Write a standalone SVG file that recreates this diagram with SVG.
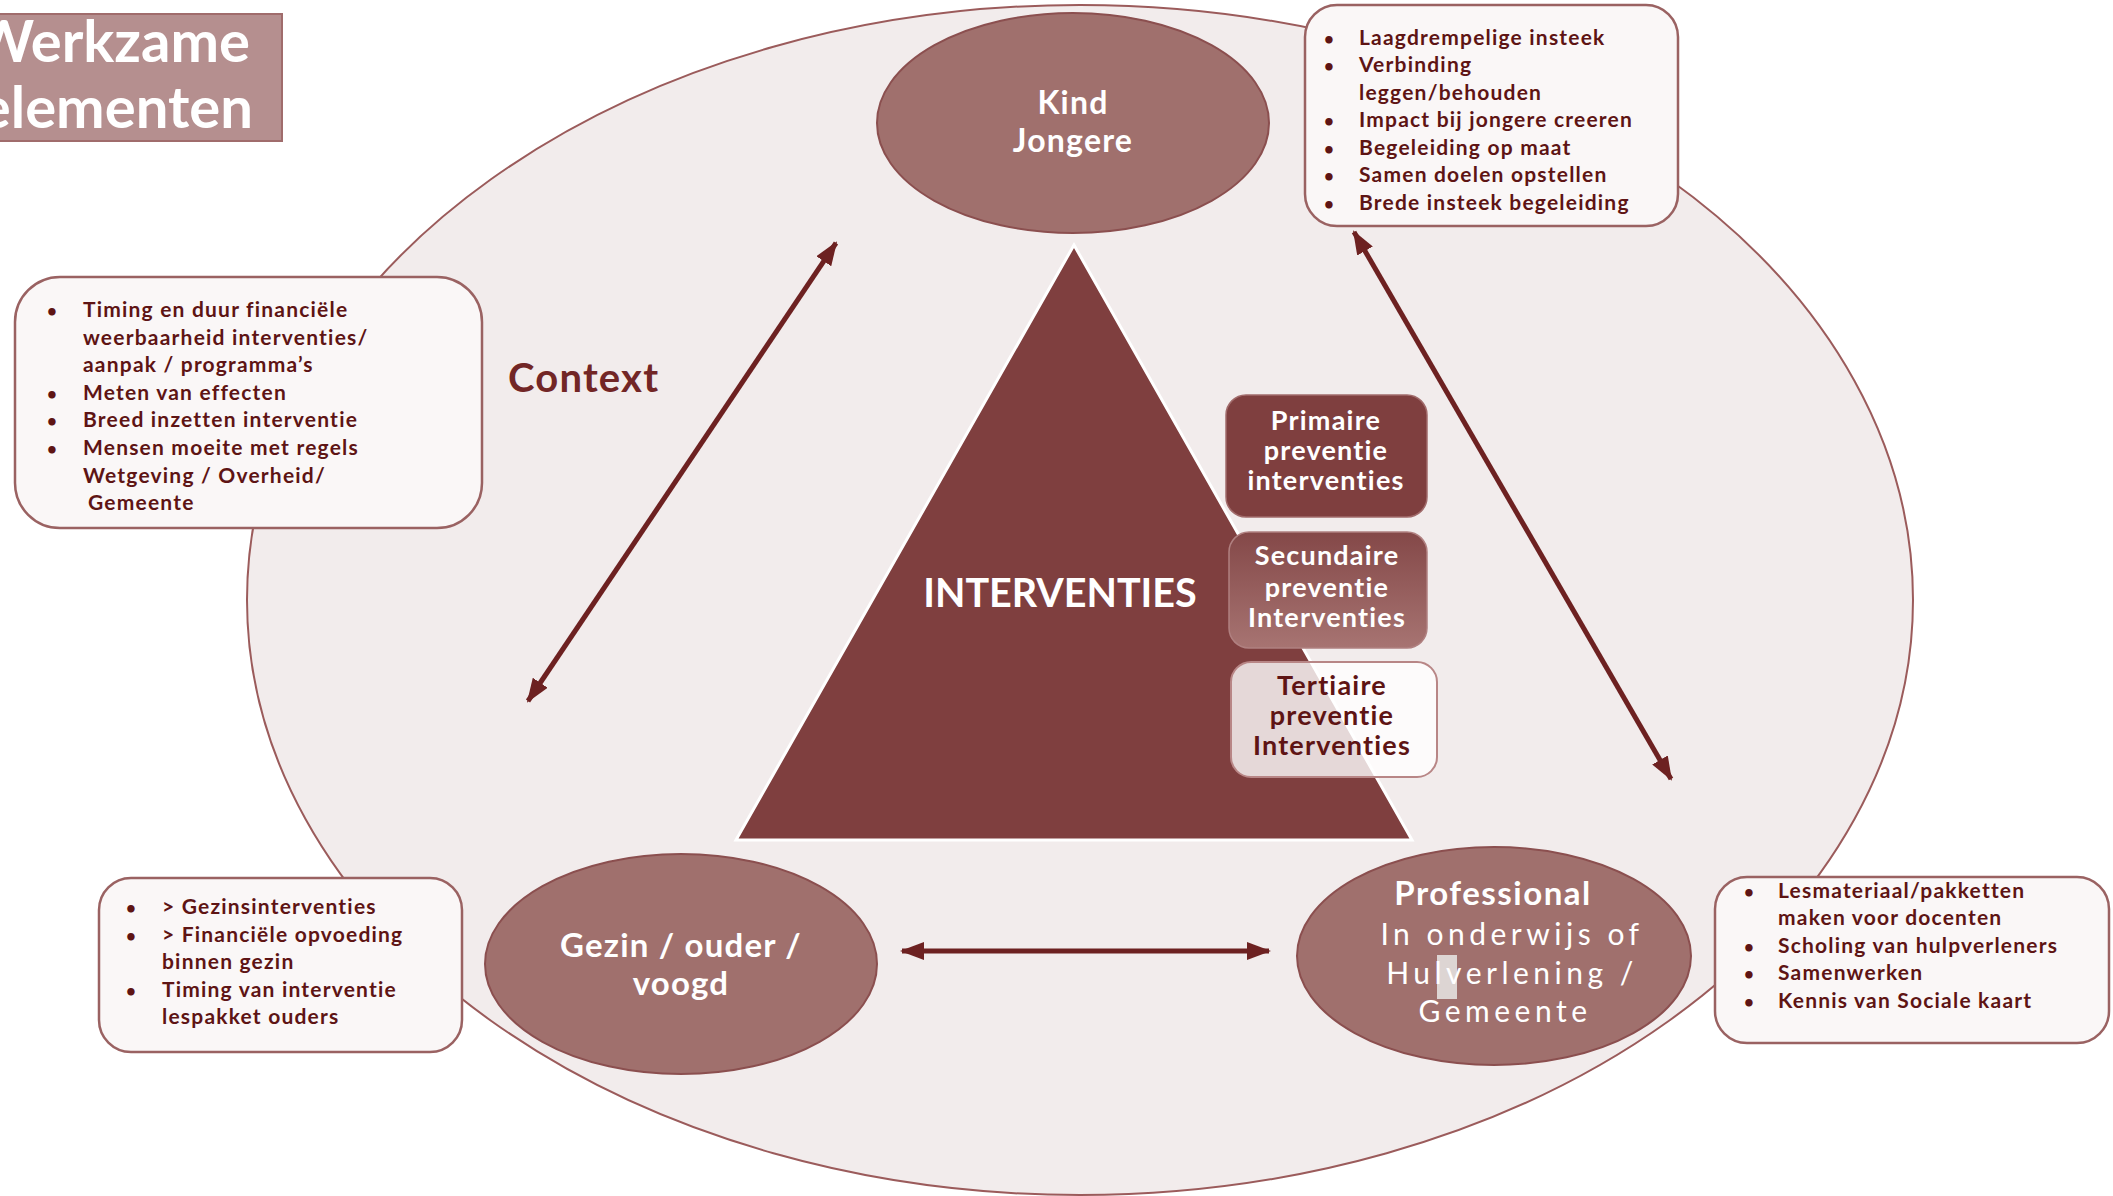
<svg xmlns="http://www.w3.org/2000/svg" width="2113" height="1196" viewBox="0 0 2113 1196">
<defs>
<style>
.bg{fill:#f2ecec;stroke:#9b5b5b;stroke-width:2}
.node{fill:#a0706d;stroke:#8b4f4f;stroke-width:2}
.call{fill:#faf7f7;stroke:#9a6262;stroke-width:2.5}
.ct{font-family:Lato,"Liberation Sans",sans-serif;font-weight:bold;font-size:21px;letter-spacing:1.2px;fill:#5e1414}
.bu{font-family:Lato,"Liberation Sans",sans-serif;font-weight:bold;font-size:17px;fill:#5e1414}
.wt{font-family:Lato,"Liberation Sans",sans-serif;font-weight:bold;fill:#ffffff;text-anchor:middle}
.pt{font-family:Lato,"Liberation Sans",sans-serif;font-weight:bold;font-size:27px;letter-spacing:1.2px;text-anchor:middle}
.conn{stroke:#6d2121;stroke-width:5;fill:none;marker-start:url(#ah);marker-end:url(#ah)}
</style>
<marker id="ah" markerUnits="userSpaceOnUse" markerWidth="24" markerHeight="18" refX="22" refY="9" orient="auto-start-reverse">
<path d="M0,0 L24,9 L0,18 Z" fill="#6d2121"/>
</marker>
<linearGradient id="secg" x1="0" y1="0" x2="0" y2="1">
<stop offset="0" stop-color="#844848"/>
<stop offset="1" stop-color="#a77472"/>
</linearGradient>
</defs>
<rect x="0" y="0" width="2113" height="1196" fill="#ffffff"/>

<g id="context-ellipse">
<ellipse class="bg" cx="1080" cy="600" rx="833" ry="595"/>
</g>

<g id="title">
<rect x="-2" y="14" width="284" height="127" fill="#b58f8f" stroke="#a06c6c" stroke-width="2"/>
<text x="250" y="62" class="wt" style="text-anchor:end;font-size:58px">Werkzame</text>
<text x="253" y="128" class="wt" style="text-anchor:end;font-size:58px">elementen</text>
</g>

<g id="context-label">
<text x="508" y="392" font-family="Lato, 'Liberation Sans', sans-serif" font-weight="bold" font-size="40" letter-spacing="1.2" fill="#722626">Context</text>
</g>

<g id="interventies">
<polygon points="1074,245 736,840 1412,840" fill="#7f3f3f" stroke="#ffffff" stroke-width="3"/>
<text x="1060" y="607" class="wt" style="font-size:39.5px">INTERVENTIES</text>
</g>

<g id="primaire">
<rect x="1226" y="395" width="201" height="122" rx="20" fill="#7f3f3f" stroke="#a16b6b" stroke-width="1.5"/>
<text class="pt" fill="#ffffff"><tspan x="1326" y="430">Primaire</tspan><tspan x="1326" y="460">preventie</tspan><tspan x="1326" y="490">interventies</tspan></text>
</g>

<g id="secundaire">
<rect x="1229" y="532" width="198" height="116" rx="20" fill="url(#secg)" stroke="#b08080" stroke-width="1.5"/>
<text class="pt" fill="#ffffff"><tspan x="1327" y="565">Secundaire</tspan><tspan x="1327" y="597">preventie</tspan><tspan x="1327" y="627">Interventies</tspan></text>
</g>

<g id="tertiaire">
<rect x="1231" y="662" width="206" height="115" rx="20" fill="#ffffff" fill-opacity="0.8" stroke="#b88686" stroke-width="2"/>
<text class="pt" fill="#5e1414"><tspan x="1332" y="695">Tertiaire</tspan><tspan x="1332" y="725">preventie</tspan><tspan x="1332" y="755">Interventies</tspan></text>
</g>

<g id="connectors">
<line class="conn" x1="836" y1="243" x2="528" y2="701"/>
<line class="conn" x1="1354" y1="232" x2="1671" y2="779"/>
<line class="conn" x1="902" y1="951" x2="1269" y2="951"/>
</g>

<g id="kind">
<ellipse class="node" cx="1073" cy="123" rx="196" ry="110"/>
<text class="wt" style="font-size:32px;letter-spacing:1.2px"><tspan x="1073" y="114">Kind</tspan><tspan x="1073" y="152">Jongere</tspan></text>
</g>

<g id="gezin">
<ellipse class="node" cx="681" cy="964" rx="196" ry="110"/>
<text class="wt" style="font-size:33px;letter-spacing:1.2px"><tspan x="681" y="957">Gezin / ouder /</tspan><tspan x="681" y="995">voogd</tspan></text>
</g>

<g id="professional">
<ellipse class="node" cx="1494" cy="956" rx="197" ry="109"/>
<rect x="1437" y="955" width="20" height="44" fill="#ddd5d3"/>
<text x="1493" y="905" class="wt" style="font-size:33px;letter-spacing:1.5px">Professional</text>
<text class="wt" style="font-size:30px;font-weight:normal;letter-spacing:4.5px"><tspan x="1512" y="945">In onderwijs of</tspan><tspan x="1512" y="984">Hulverlening /</tspan><tspan x="1505" y="1022">Gemeente</tspan></text>
</g>

<g id="box-kind">
<rect class="call" x="1305" y="5" width="373" height="221" rx="32"/>
<g class="bu">
<text x="1324" y="45">•</text><text x="1324" y="72">•</text><text x="1324" y="127">•</text><text x="1324" y="155">•</text><text x="1324" y="182">•</text><text x="1324" y="210">•</text>
</g>
<g class="ct">
<text x="1359" y="45">Laagdrempelige insteek</text>
<text x="1359" y="72">Verbinding</text>
<text x="1359" y="100">leggen/behouden</text>
<text x="1359" y="127">Impact bij jongere creeren</text>
<text x="1359" y="155">Begeleiding op maat</text>
<text x="1359" y="182">Samen doelen opstellen</text>
<text x="1359" y="210">Brede insteek begeleiding</text>
</g>
</g>

<g id="box-context">
<rect class="call" x="15" y="277" width="467" height="251" rx="45"/>
<g class="bu">
<text x="47" y="317">•</text><text x="47" y="400">•</text><text x="47" y="427">•</text><text x="47" y="455">•</text>
</g>
<g class="ct">
<text x="83" y="317">Timing en duur financiële</text>
<text x="83" y="345">weerbaarheid interventies/</text>
<text x="83" y="372">aanpak / programma’s</text>
<text x="83" y="400">Meten van effecten</text>
<text x="83" y="427">Breed inzetten interventie</text>
<text x="83" y="455">Mensen moeite met regels</text>
<text x="83" y="483">Wetgeving / Overheid/</text>
<text x="88" y="510">Gemeente</text>
</g>
</g>

<g id="box-gezin">
<rect class="call" x="99" y="878" width="363" height="174" rx="32"/>
<g class="bu">
<text x="126" y="914">•</text><text x="126" y="942">•</text><text x="126" y="997">•</text>
</g>
<g class="ct">
<text x="162" y="914">&gt; Gezinsinterventies</text>
<text x="162" y="942">&gt; Financiële opvoeding</text>
<text x="162" y="969">binnen gezin</text>
<text x="162" y="997">Timing van interventie</text>
<text x="162" y="1024">lespakket ouders</text>
</g>
</g>

<g id="box-professional">
<rect class="call" x="1715" y="877" width="394" height="166" rx="32"/>
<g class="bu">
<text x="1744" y="898">•</text><text x="1744" y="953">•</text><text x="1744" y="980">•</text><text x="1744" y="1008">•</text>
</g>
<g class="ct">
<text x="1778" y="898">Lesmateriaal/pakketten</text>
<text x="1778" y="925">maken voor docenten</text>
<text x="1778" y="953">Scholing van hulpverleners</text>
<text x="1778" y="980">Samenwerken</text>
<text x="1778" y="1008">Kennis van Sociale kaart</text>
</g>
</g>
</svg>
